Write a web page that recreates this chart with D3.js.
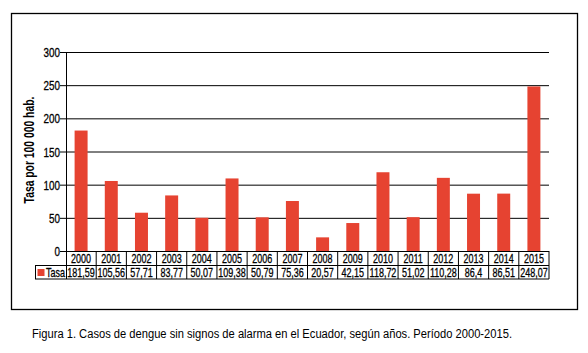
<!DOCTYPE html>
<html>
<head>
<meta charset="utf-8">
<script src="https://cdn.jsdelivr.net/npm/d3@7"></script>
<style>
  body { margin: 0; background: #fff; }
  svg text { font-family: "Liberation Sans", Arial, sans-serif; fill: #000; }
</style>
</head>
<body>
<div id="chart"></div>
<script>
const years = ["2000", "2001", "2002", "2003", "2004", "2005", "2006", "2007",
    "2008", "2009", "2010", "2011", "2012", "2013", "2014", "2015"];
const tasa = [181.59, 105.56, 57.71, 83.77, 50.07, 109.38, 50.79, 75.36,
    20.57, 42.15, 118.72, 51.02, 110.28, 86.4, 86.51, 248.07];
const yTicks = [0, 50, 100, 150, 200, 250, 300];

const W = 588, H = 353;
const margin = { top: 52, right: 39, bottom: 102, left: 66 };
const width = W - margin.left - margin.right,
    height = H - margin.top - margin.bottom;
const red = "#e64331";
const fmt = v => String(v).replace(".", ",");
const K = 0.72; // factor de fuente condensada

const svg = d3.select("#chart")
    .append("svg")
    .attr("width", W)
    .attr("height", H);

// Marco exterior
svg.append("rect")
    .attr("x", 11.5).attr("y", 13.5)
    .attr("width", 566).attr("height", 296)
    .attr("fill", "none").attr("stroke", "#000").attr("stroke-width", 1.3);

const g = svg.append("g")
    .attr("transform", `translate(${margin.left},${margin.top})`);

const x = d3.scaleBand().domain(years).range([0, width])
    .paddingInner(0.57).paddingOuter(0.285);
const y = d3.scaleLinear().domain([0, 300]).range([height, 0]);

// Líneas de cuadrícula + ticks
const yAxis = g.append("g")
    .call(d3.axisLeft(y).tickValues(yTicks).tickSize(-width))
    .call(a => a.select(".domain").remove());
yAxis.selectAll(".tick line").attr("stroke", "#000").attr("x1", -6);
yAxis.selectAll(".tick text").remove();
yAxis.selectAll(".tick")
    .append("text")
    .attr("transform", "translate(-6,4.5) scale(0.76,1)")
    .attr("text-anchor", "end")
    .style("font-size", "13px")
    .attr("stroke", "#000").attr("stroke-width", 0.3)
    .text(d => d);

// Eje vertical
g.append("line")
    .attr("x1", 0.5).attr("x2", 0.5).attr("y1", 0).attr("y2", height + 28)
    .attr("stroke", "#000");

// Barras
g.selectAll(".bar")
    .data(years)
    .enter()
    .append("rect")
    .attr("class", "bar")
    .attr("x", (d, i) => x(d))
    .attr("y", (d, i) => y(tasa[i]))
    .attr("width", x.bandwidth())
    .attr("height", (d, i) => height - y(tasa[i]))
    .attr("fill", red);

// Título eje Y
svg.append("text")
    .attr("transform", "translate(34,150) rotate(-90) scale(0.74,1)")
    .attr("text-anchor", "middle")
    .style("font-size", "14px")
    .style("font-weight", "bold")
    .text("Tasa por 100 000 hab.");

// Tabla de datos
const rowH = 14;
const colW = x.step();
const tbl = g.append("g").attr("transform", `translate(0,${height})`);
const legendX = 35 - margin.left;

tbl.append("line").attr("x1", 0).attr("x2", width).attr("y1", 0.5).attr("y2", 0.5).attr("stroke", "#000");
tbl.append("line").attr("x1", legendX).attr("x2", width).attr("y1", rowH + 0.5).attr("y2", rowH + 0.5).attr("stroke", "#000");
tbl.append("line").attr("x1", legendX).attr("x2", width).attr("y1", 2 * rowH).attr("y2", 2 * rowH).attr("stroke", "#000");
tbl.append("line").attr("x1", legendX + 0.5).attr("x2", legendX + 0.5).attr("y1", rowH).attr("y2", 2 * rowH).attr("stroke", "#000");

tbl.selectAll(".sep")
    .data(d3.range(1, years.length + 1))
    .enter()
    .append("line")
    .attr("x1", d => d * colW).attr("x2", d => d * colW)
    .attr("y1", 0).attr("y2", 2 * rowH)
    .attr("stroke", "#000");

tbl.selectAll(".yr")
    .data(years)
    .enter()
    .append("text")
    .attr("transform", d => `translate(${x(d) + x.bandwidth() / 2},${rowH - 2.5}) scale(${K},1)`)
    .attr("text-anchor", "middle")
    .style("font-size", "12.5px")
    .attr("stroke", "#000").attr("stroke-width", 0.3)
    .text(d => d);

tbl.selectAll(".val")
    .data(tasa)
    .enter()
    .append("text")
    .attr("transform", (d, i) => `translate(${x(years[i]) + x.bandwidth() / 2},${2 * rowH - 2.5}) scale(${K},1)`)
    .attr("text-anchor", "middle")
    .style("font-size", "12.5px")
    .attr("stroke", "#000").attr("stroke-width", 0.3)
    .text(d => fmt(d));

tbl.append("rect")
    .attr("x", legendX + 2.5).attr("y", rowH + 4)
    .attr("width", 7).attr("height", 7)
    .attr("fill", red);
tbl.append("text")
    .attr("transform", `translate(${legendX + 11},${2 * rowH - 2.5}) scale(${K},1)`)
    .style("font-size", "12.5px")
    .attr("stroke", "#000").attr("stroke-width", 0.3)
    .text("Tasa");

// Pie de figura
svg.append("text")
    .attr("x", 32).attr("y", 338)
    .style("font-size", "12.5px")
    .attr("textLength", 480)
    .attr("lengthAdjust", "spacingAndGlyphs")
    .text("Figura 1. Casos de dengue sin signos de alarma en el Ecuador, según años. Período 2000-2015.");
</script>
</body>
</html>
